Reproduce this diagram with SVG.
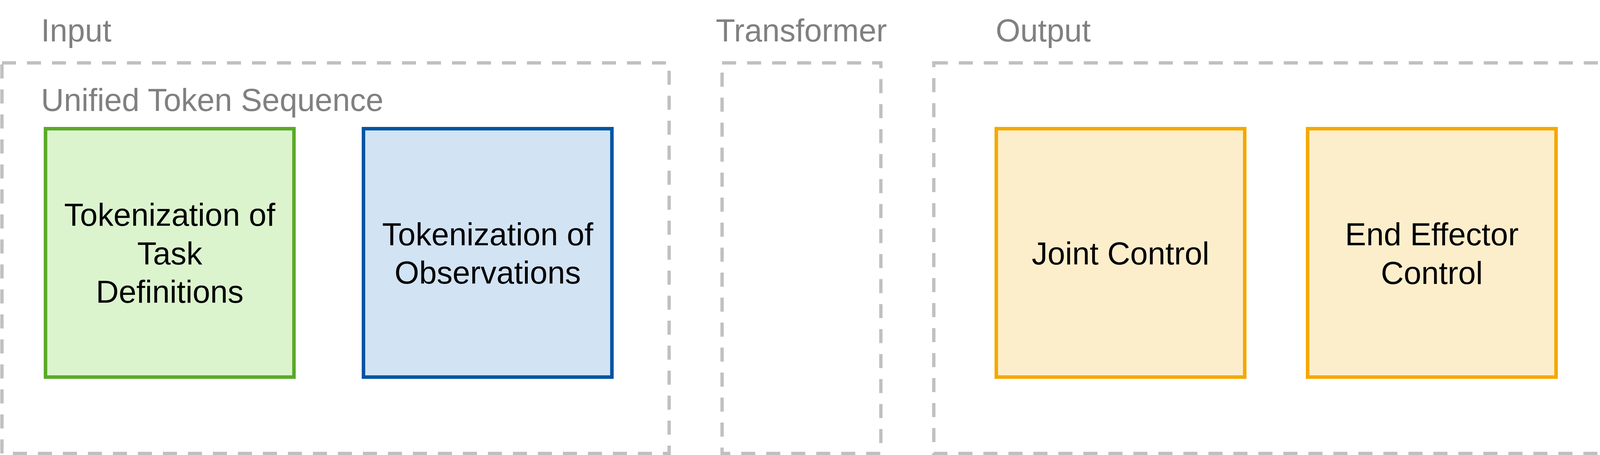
<svg xmlns="http://www.w3.org/2000/svg" width="4121" height="1165" viewBox="0 0 4121 1165">
<style>
.grp{fill:none;stroke:#c0c0c0;stroke-width:8.5;stroke-dasharray:36 28}
.ttl{font-family:"Liberation Sans",Arial,sans-serif;font-size:81px;fill:#808080}
.lbl{font-family:"Liberation Sans",Arial,sans-serif;font-size:81px;fill:#000;text-anchor:middle}
.green{fill:#dcf4ce;stroke:#5aaa28;stroke-width:9}
.blue{fill:#d2e3f4;stroke:#0055a3;stroke-width:9}
.orange{fill:#fdeecb;stroke:#f5a800;stroke-width:9}
</style>
<rect width="4121" height="1165" fill="#fff"/>
<g id="input-group">
<rect class="grp" x="5" y="161" width="1708" height="1000"/>
<text class="ttl" x="105" y="106">Input</text>
<text class="ttl" x="105" y="284">Unified Token Sequence</text>
</g>
<g id="transformer-group">
<rect class="grp" x="1848.5" y="161" width="406.5" height="1000"/>
<text class="ttl" x="2051.5" y="106" text-anchor="middle">Transformer</text>
</g>
<g id="output-group">
<rect class="grp" x="2390.5" y="161" width="1725.5" height="1000"/>
<text class="ttl" x="2549" y="106">Output</text>
</g>
<g id="task-tokens">
<rect class="green" x="116.5" y="329.5" width="636" height="636"/>
<text class="lbl" x="434.5" y="578">Tokenization of</text>
<text class="lbl" x="434.5" y="677">Task</text>
<text class="lbl" x="434.5" y="775">Definitions</text>
</g>
<g id="obs-tokens">
<rect class="blue" x="930.5" y="329.5" width="636" height="636"/>
<text class="lbl" x="1248.5" y="627.5">Tokenization of</text>
<text class="lbl" x="1248.5" y="726">Observations</text>
</g>
<g id="joint-control">
<rect class="orange" x="2550.5" y="329.5" width="636" height="636"/>
<text class="lbl" x="2868.5" y="677">Joint Control</text>
</g>
<g id="ee-control">
<rect class="orange" x="3347.5" y="329.5" width="636" height="636"/>
<text class="lbl" x="3665.5" y="627.5">End Effector</text>
<text class="lbl" x="3665.5" y="726.5">Control</text>
</g>
<g id="connectors"></g>
</svg>
